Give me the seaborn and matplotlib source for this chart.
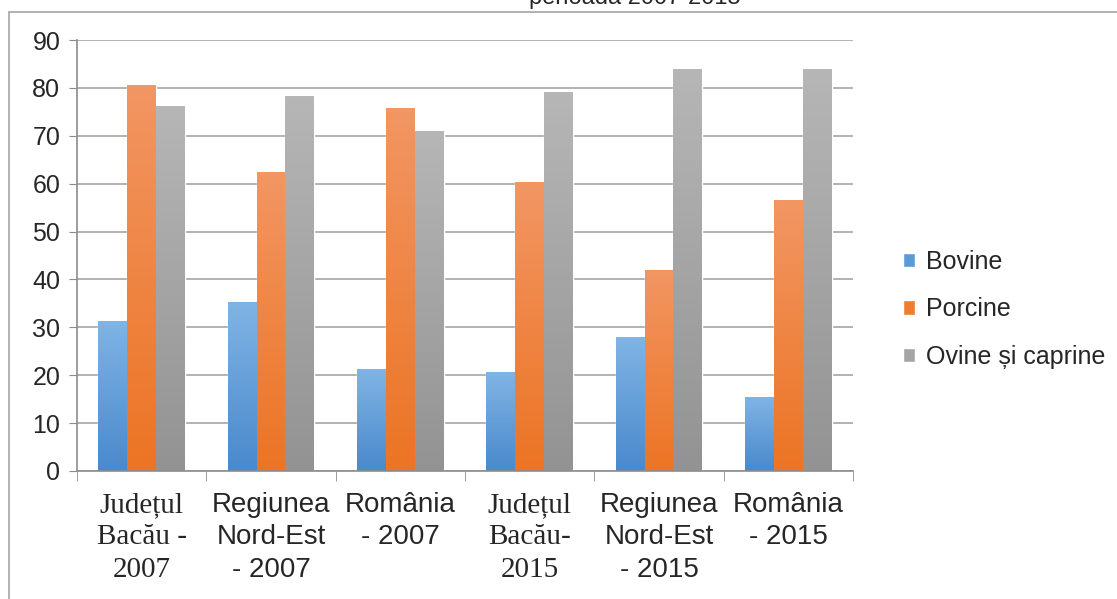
import numpy as np
import pandas as pd
import matplotlib
matplotlib.use("Agg")
import matplotlib.pyplot as plt
import matplotlib.colors as mcolors
from matplotlib.patches import Rectangle
import seaborn as sns

# date
regiuni = ["Județul\nBacău -\n2007", "Regiunea\nNord-Est\n- 2007", "România\n- 2007",
           "Județul\nBacău-\n2015", "Regiunea\nNord-Est\n- 2015", "România\n- 2015"]
bovine = [31.4, 35.3, 21.2, 20.6, 27.9, 15.5]
porcine = [80.7, 62.4, 75.8, 60.3, 42.0, 56.5]
ovine_caprine = [76.3, 78.3, 71.0, 79.1, 83.9, 83.9]
serii = ["Bovine", "Porcine", "Ovine și caprine"]
culori = ["#5B9BD5", "#ED7D31", "#A5A5A5"]
# culori sus / jos pentru gradient
grad = {"#5B9BD5": ("#80B4E4", "#4A89CC"),
        "#ED7D31": ("#F29663", "#EC7424"),
        "#A5A5A5": ("#B6B6B6", "#939393")}

df = pd.DataFrame({"regiune": regiuni * 3,
                   "valoare": bovine + porcine + ovine_caprine,
                   "serie": np.repeat(serii, len(regiuni))})

sns.set_style("white")
plt.rcParams["font.family"] = ["Liberation Sans", "DejaVu Sans"]

fig = plt.figure(figsize=(11.17, 5.99), dpi=100)
ax = fig.add_axes([0.0689, 0.2137, 0.6948, 0.7195])

sns.barplot(data=df, x="regiune", y="valoare", hue="serie", palette=culori,
            width=0.67, ax=ax, saturation=1, errorbar=None)

# gradient pe fiecare bara
for p in list(ax.patches):
    if p.get_height() <= 0:
        continue
    c = mcolors.to_hex(p.get_facecolor()).upper()
    if c not in grad:
        continue
    top, bot = grad[c]
    cmap = mcolors.LinearSegmentedColormap.from_list("g", [bot, top])
    x0, w, h = p.get_x(), p.get_width(), p.get_height()
    im = ax.imshow(np.linspace(0, 1, 100).reshape(-1, 1), cmap=cmap, origin="lower",
                   extent=[x0, x0 + w, 0, h], aspect="auto", zorder=p.get_zorder() + 0.1)
    im.set_clip_path(p)

ax.set_xlim(-0.5, 5.5)
ax.set_ylim(0, 90)
ax.set_yticks(range(0, 91, 10))
ax.grid(axis="y", color="#A6A6A6", linewidth=1.2)
ax.set_axisbelow(True)
ax.set_xlabel("")
ax.set_ylabel("")

for s in ["top", "right"]:
    ax.spines[s].set_visible(False)
for s in ["left", "bottom"]:
    ax.spines[s].set_color("#8C8C8C")
    ax.spines[s].set_linewidth(1.2)

ax.tick_params(axis="y", labelsize=18, length=6, color="#8C8C8C", left=True, pad=6)
ax.set_xticks(range(len(regiuni)))
ax.set_xticklabels(regiuni, fontsize=20, linespacing=1.32)
ax.tick_params(axis="x", length=0, pad=15)
ax.set_xticks(np.arange(-0.5, 6, 1), minor=True)
ax.tick_params(axis="x", which="minor", length=7, color="#8C8C8C", bottom=True)
for i, lbl in enumerate(ax.get_xticklabels()):
    if i in (0, 3):
        lbl.set_fontfamily(["Liberation Serif", "DejaVu Serif"])
        lbl.set_fontsize(21)

leg = ax.legend(loc="center left", bbox_to_anchor=(1.035, 0.375), frameon=False,
                fontsize=18, handlelength=0.5, handleheight=0.5, handletextpad=0.45,
                labelspacing=0.95)

# chenar si titlu taiat
fig.patches.append(Rectangle((0.008, -0.02), 1.2, 1.0, transform=fig.transFigure,
                             fill=False, edgecolor="#ABABAB", linewidth=1.3))
fig.text(0.568, 1.003, "perioada 2007-2015", ha="center", va="center", fontsize=17)

fig.savefig("out.png", dpi=100)
